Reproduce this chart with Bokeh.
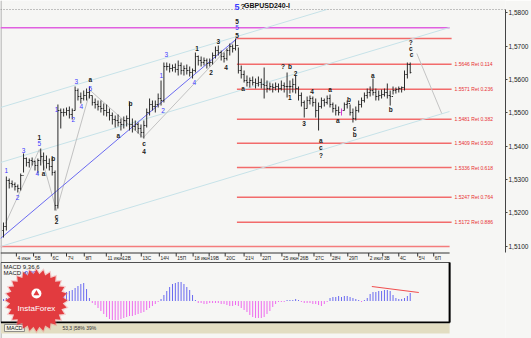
from bokeh.plotting import figure
from bokeh.models import Range1d, FixedTicker, Label, ColumnDataSource
from bokeh.core.properties import value
from bokeh.embed import file_html
from bokeh.resources import INLINE
import numpy as np

# ---------------- data ----------------
highs = [
    1.5171, 1.5309, 1.5303, 1.5297, 1.5291, 1.5285, 1.5318, 1.5378, 1.5366, 1.5363,
    1.5366, 1.5357, 1.5363, 1.5393, 1.5381, 1.5372, 1.5363, 1.5366, 1.5327, 1.5525,
    1.5513, 1.5513, 1.5516, 1.5519, 1.5513, 1.5579, 1.5573, 1.5561, 1.5567, 1.5573,
    1.5579, 1.5552, 1.5543, 1.5537, 1.5537, 1.5528, 1.5525, 1.5513, 1.5501, 1.5492,
    1.5495, 1.5483, 1.5489, 1.5492, 1.5531, 1.5483, 1.5477, 1.5471, 1.5465, 1.5477,
    1.5513, 1.5543, 1.5537, 1.5537, 1.5558, 1.5597, 1.5651, 1.5651, 1.5648, 1.5645,
    1.5648, 1.5657, 1.5651, 1.5642, 1.5645, 1.5639, 1.5633, 1.5681, 1.5672, 1.5669,
    1.5666, 1.5663, 1.5663, 1.5681, 1.5699, 1.5702, 1.5687, 1.5681, 1.5693, 1.5708,
    1.5705, 1.5723, 1.5696, 1.5642, 1.5627, 1.5612, 1.5606, 1.5609, 1.5603, 1.5609,
    1.5603, 1.5636, 1.5597, 1.5591, 1.5588, 1.5591, 1.5588, 1.5597, 1.5591, 1.5621,
    1.5597, 1.5603, 1.5612, 1.5579, 1.5561, 1.5537, 1.5549, 1.5552, 1.5549, 1.5543,
    1.5531, 1.5546, 1.5543, 1.5552, 1.5555, 1.5531, 1.5525, 1.5519, 1.5513, 1.5531,
    1.5537, 1.5525, 1.5513, 1.5519, 1.5537, 1.5546, 1.5561, 1.5573, 1.5579, 1.5603,
    1.5573, 1.5567, 1.5570, 1.5573, 1.5588, 1.5567, 1.5579, 1.5576, 1.5579, 1.5579,
    1.5627, 1.5651, 1.5651]
lows = [
    1.5126, 1.5147, 1.5273, 1.5276, 1.5267, 1.5261, 1.5267, 1.5321, 1.5339, 1.5336,
    1.5342, 1.5327, 1.5318, 1.5342, 1.5327, 1.5333, 1.5327, 1.5312, 1.5207, 1.5213,
    1.5453, 1.5489, 1.5492, 1.5483, 1.5480, 1.5507, 1.5537, 1.5528, 1.5537, 1.5537,
    1.5543, 1.5522, 1.5513, 1.5507, 1.5501, 1.5492, 1.5489, 1.5477, 1.5465, 1.5456,
    1.5459, 1.5447, 1.5453, 1.5459, 1.5447, 1.5441, 1.5447, 1.5438, 1.5426, 1.5423,
    1.5456, 1.5492, 1.5507, 1.5501, 1.5516, 1.5522, 1.5531, 1.5627, 1.5621, 1.5624,
    1.5621, 1.5612, 1.5615, 1.5612, 1.5615, 1.5609, 1.5603, 1.5621, 1.5642, 1.5639,
    1.5642, 1.5633, 1.5639, 1.5645, 1.5663, 1.5672, 1.5657, 1.5651, 1.5657, 1.5672,
    1.5681, 1.5687, 1.5618, 1.5603, 1.5591, 1.5579, 1.5576, 1.5582, 1.5573, 1.5579,
    1.5573, 1.5543, 1.5561, 1.5567, 1.5561, 1.5567, 1.5561, 1.5567, 1.5561, 1.5546,
    1.5558, 1.5561, 1.5558, 1.5537, 1.5519, 1.5486, 1.5513, 1.5525, 1.5519, 1.5486,
    1.5447, 1.5513, 1.5519, 1.5525, 1.5516, 1.5501, 1.5492, 1.5492, 1.5492, 1.5507,
    1.5513, 1.5492, 1.5471, 1.5477, 1.5501, 1.5516, 1.5531, 1.5543, 1.5549, 1.5552,
    1.5537, 1.5537, 1.5543, 1.5549, 1.5543, 1.5522, 1.5555, 1.5558, 1.5561, 1.5561,
    1.5567, 1.5603, 1.5618]
closes = [
    1.5159, 1.5297, 1.5288, 1.5285, 1.5279, 1.5273, 1.5312, 1.5363, 1.5351, 1.5357,
    1.5354, 1.5342, 1.5357, 1.5369, 1.5357, 1.5348, 1.5339, 1.5321, 1.5222, 1.5507,
    1.5501, 1.5501, 1.5507, 1.5495, 1.5507, 1.5567, 1.5549, 1.5543, 1.5552, 1.5561,
    1.5552, 1.5531, 1.5525, 1.5519, 1.5513, 1.5507, 1.5501, 1.5492, 1.5480, 1.5477,
    1.5471, 1.5465, 1.5477, 1.5483, 1.5465, 1.5459, 1.5465, 1.5453, 1.5441, 1.5462,
    1.5501, 1.5525, 1.5519, 1.5525, 1.5543, 1.5537, 1.5639, 1.5639, 1.5633, 1.5636,
    1.5630, 1.5642, 1.5627, 1.5633, 1.5627, 1.5621, 1.5627, 1.5669, 1.5657, 1.5651,
    1.5657, 1.5648, 1.5651, 1.5672, 1.5687, 1.5681, 1.5669, 1.5663, 1.5687, 1.5699,
    1.5693, 1.5702, 1.5627, 1.5615, 1.5597, 1.5591, 1.5597, 1.5591, 1.5588, 1.5591,
    1.5585, 1.5582, 1.5573, 1.5579, 1.5576, 1.5579, 1.5573, 1.5582, 1.5579, 1.5579,
    1.5579, 1.5585, 1.5573, 1.5552, 1.5531, 1.5513, 1.5537, 1.5543, 1.5531, 1.5507,
    1.5519, 1.5537, 1.5531, 1.5543, 1.5525, 1.5513, 1.5507, 1.5501, 1.5507, 1.5525,
    1.5528, 1.5501, 1.5483, 1.5507, 1.5525, 1.5537, 1.5552, 1.5561, 1.5567, 1.5561,
    1.5549, 1.5552, 1.5555, 1.5561, 1.5552, 1.5549, 1.5567, 1.5570, 1.5573, 1.5576,
    1.5615, 1.5645, 1.5621]
first_open = 1.5147
pink_bar = 118

macd_hist = [
    0.0002, 0.0003, 0.0003, 0.0004, 0.0004, 0.0004,
    0.0005, 0.0007, 0.0008, 0.0008, 0.0008, 0.0007, 0.0007, 0.0008, 0.0008, 0.0007, 0.0006, 0.0005, 0.0003, 0.0006, 0.0007, 0.0008,
    0.0009, 0.0010, 0.0011, 0.0013, 0.0015, 0.0017, 0.0018, 0.0012, 0.0003,
    -0.0002, -0.0004, -0.0007, -0.0010, -0.0013, -0.0016, -0.0018, -0.0019, -0.0019, -0.0019, -0.0018, -0.0017,
    -0.0016, -0.0015, -0.0015, -0.0014, -0.0013, -0.0012, -0.0011, -0.0009, -0.0007, -0.0005, -0.0003, -0.0001,
    0.0002, 0.0006, 0.0010, 0.0014, 0.0017, 0.0018, 0.0019, 0.0019, 0.0017, 0.0014, 0.0011, 0.0006, 0.0001,
    -0.0002, -0.0002, -0.0003, -0.0003, -0.0002, -0.0002, -0.0002, -0.0002, -0.0003, -0.0003,
    -0.0004, -0.0005, -0.0005, -0.0004, -0.0005, -0.0007, -0.0009, -0.0011, -0.0014, -0.0016,
    -0.0017, -0.0017, -0.0017, -0.0016, -0.0013, -0.0010, -0.0006, -0.0003, -0.0001, -0.0001, -0.0001,
    0.0001, 0.0001, 0.0001, 0.0002, 0.0001,
    -0.0001, -0.0002, -0.0002, -0.0002, -0.0003, -0.0003, -0.0004, -0.0005, -0.0003, -0.0001,
    0.0003, 0.0004, 0.0004, 0.0005, 0.0004, 0.0005, 0.0005, 0.0004, 0.0003, 0.0002, 0.0001,
    -0.0001,
    0.0001, 0.0003, 0.0007, 0.0009, 0.0009, 0.0010, 0.0010, 0.0011, 0.0011, 0.0010, 0.0006, 0.0003,
    0.0002, 0.0002, 0.0003, 0.0005, 0.0008]
macd_trend_x = [128.6, 145.0]
macd_trend_y = [0.00145, 0.00085]

price_ticks = [1.51, 1.52, 1.53, 1.54, 1.55, 1.56, 1.57, 1.58]
price_tick_labels = ["1,5100", "1,5200", "1,5300", "1,5400", "1,5500", "1,5600", "1,5700", "1,5800"]
current_price = 1.5620
current_price_label = "1,5620"

date_tick_idx = [4.5, 10.5, 16.7, 22.0, 28.2, 35.9, 41.1, 48.1, 54.4, 60.3, 66.2, 71.8, 77.4,
                 84.0, 89.9, 97.2, 103.1, 108.4, 114.3, 120.2, 127.5, 132.4, 138.0, 144.6, 150.2]
date_tick_labels = ["4 июн", "5В", "6С", "7Ч", "8П", "11 июн", "12В", "13С", "14Ч", "15П",
                    "18 июн", "19В", "20С", "21Ч", "22П", "25 июн", "26В", "27С", "28Ч", "29П",
                    "2 июл", "3В", "4С", "5Ч", "6П"]

fib_levels = [1.5646, 1.5571, 1.5481, 1.5409, 1.5336, 1.5247, 1.5172]
fib_labels = ["1.5646 Ret 0.114", "1.5571 Ret 0.236", "1.5481 Ret 0.382", "1.5409 Ret 0.500",
              "1.5336 Ret 0.618", "1.5247 Ret 0.764", "1.5172 Ret 0.886"]
fib_start_idx = 81.5
fib_top_level = 1.5723
magenta_level = 1.5755
bottom_level = 1.5099

blue_line_x = [-1.05, 81.5]
blue_line_y = [1.5123, 1.5723]
channel_x0 = [-1.05, -1.05, -1.05]
channel_y0 = [1.5516, 1.5351, 1.5099]
channel_x1 = [112.9, 155.7, 155.7]
channel_y1 = [1.5810, 1.5756, 1.5504]
zigzag_x = [0.7, 12.5, 18.5, 30.3, 48.8, 81.5]
zigzag_y = [1.5168, 1.5390, 1.5207, 1.5567, 1.5426, 1.5723]
proj_x = [144.3, 153.0]
proj_y = [1.5678, 1.5498]

blue_lab_x = [1.0, 4.9, 7.0, 11.8, 12.5, 18.5, 24.4, 25.4, 27.2, 30.3, 55.1, 55.7, 56.8, 66.6, 81.5]
blue_lab_y = [1.5327, 1.5246, 1.5387, 1.5318, 1.5408, 1.5510, 1.5480, 1.5594, 1.5519, 1.5573,
              1.5612, 1.5507, 1.5675, 1.5591, 1.5756]
blue_lab_t = ["1", "2", "3", "4", "5", "1", "2", "3", "4", "5", "1", "2", "3", "4", "5"]

black_lab_x = [12.5, 14.0, 17.4, 18.5, 18.5, 30.3, 40.1, 44.3, 49.1, 49.1, 67.6, 72.5, 75.0, 77.7,
               81.5, 81.5, 83.6, 97.6, 100.0, 100.0, 102.0, 104.9, 107.7, 110.8, 110.8, 110.8,
               114.0, 116.7, 120.6, 122.6, 122.6, 128.9, 135.2, 142.2, 142.2, 142.5]
black_lab_y = [1.5426, 1.5318, 1.5363, 1.5189, 1.5174, 1.5600, 1.5432, 1.5528, 1.5408, 1.5384,
               1.5693, 1.5621, 1.5714, 1.5636, 1.5732, 1.5774, 1.5573, 1.5639, 1.5639, 1.5546,
               1.5618, 1.5468, 1.5564, 1.5417, 1.5396, 1.5372, 1.5570, 1.5477, 1.5540, 1.5453,
               1.5435, 1.5612, 1.5510, 1.5711, 1.5693, 1.5675]
black_lab_t = ["1", "a", "b", "c", "2", "a", "a", "b", "c", "4", "1", "2", "3", "4", "5", "5", "a",
               "?", "b", "1", "2", "3", "4", "a", "c", "?", "a", "a", "b", "c", "b", "a", "b",
               "?", "c", "c"]

title_text = "GBPUSD240-I"

# ---------------- geometry of the picture ----------------
W, H = 531, 338
FRAME_W = 506
PX_PER_BAR = 2.87
X0_PX = 3.0
P_TOP = 1.5837
P_PER_PX = 0.0003
M_BASE_PX = 300.5
M_PER_PX = 0.0001
BG = "#f6f6f4"
FONT = "Liberation Sans"

x_start = -X0_PX / PX_PER_BAR
x_end = x_start + FRAME_W / PX_PER_BAR


def xpx(px):
    return x_start + px / PX_PER_BAR


def ypx(py):
    return P_TOP - py * P_PER_PX


def mpx(py):
    return (M_BASE_PX - py) * M_PER_PX


p = figure(width=W, height=H, x_range=Range1d(x_start, x_end), y_range=Range1d(ypx(H), P_TOP),
           x_axis_location=None, y_axis_location="right", toolbar_location=None,
           output_backend="svg", min_border_left=0, min_border_top=0, min_border_bottom=0,
           min_border_right=W - FRAME_W)
p.extra_y_ranges = {"macd": Range1d(mpx(H), mpx(0))}
p.grid.visible = False
p.outline_line_color = None
p.background_fill_color = BG
p.border_fill_color = BG

ax = p.yaxis[0]
ax.ticker = FixedTicker(ticks=price_ticks)
ax.major_label_overrides = {t: s for t, s in zip(price_ticks, price_tick_labels)}
ax.bounds = (ypx(252), ypx(9))
ax.axis_line_color = "#444444"
ax.major_tick_line_color = "#444444"
ax.major_tick_out = 2
ax.major_tick_in = 0
ax.minor_tick_line_color = None
ax.major_label_standoff = 1
ax.major_label_text_font = FONT
ax.major_label_text_font_size = "6.5px"
ax.major_label_text_color = "#222222"

# frame decorations
p.segment(x0=[xpx(0.5)], x1=[xpx(0.5)], y0=[ypx(0)], y1=[ypx(H)], line_color="#9a9a9a", line_width=1)
p.segment(x0=[x_start], x1=[x_end], y0=[ypx(9)], y1=[ypx(9)], line_color="#8a8a8a",
          line_width=1, line_dash="1 2")

# horizontal levels
p.segment(x0=[x_start], x1=[xpx(450)], y0=[magenta_level], y1=[magenta_level],
          line_color="#e060e0", line_width=1.5)
p.segment(x0=[x_start], x1=[xpx(450)], y0=[bottom_level], y1=[bottom_level],
          line_color="#f47c7c", line_width=1.5)
fib_all = [fib_top_level] + fib_levels
p.segment(x0=[fib_start_idx] * len(fib_all), x1=[xpx(452)] * len(fib_all), y0=fib_all, y1=fib_all,
          line_color="#f25c5c", line_width=1.5, line_alpha=0.9)
p.text(x=[xpx(455)] * len(fib_levels), y=fib_levels, text=fib_labels, text_font=value(FONT),
       text_font_size="5px", text_color="#e83030", text_baseline="middle", text_align="left")

# trend lines
p.segment(x0=channel_x0, y0=channel_y0, x1=channel_x1, y1=channel_y1, line_color="#c6e2e8", line_width=1)
p.line(zigzag_x, zigzag_y, line_color="#c2c2c2", line_width=1)
p.line(proj_x, proj_y, line_color="#c4c4c4", line_width=1)
p.line(blue_line_x, blue_line_y, line_color="#6a6af0", line_width=1)

# OHLC bars
n = min(len(highs), len(lows), len(closes))
idx = list(range(n))
opens = [first_open] + closes[:n - 1]
colors = ["#d040d0" if i == pink_bar else "#2a2a2a" for i in idx]
src = ColumnDataSource(dict(x=idx, h=highs[:n], l=lows[:n], o=opens, c=closes[:n],
                            xl=[i - 0.4 for i in idx], xr=[i + 0.4 for i in idx], col=colors))
p.segment(x0="x", x1="x", y0="l", y1="h", source=src, line_color="col", line_width=1)
p.segment(x0="xl", x1="x", y0="o", y1="o", source=src, line_color="col", line_width=1)
p.segment(x0="x", x1="xr", y0="c", y1="c", source=src, line_color="col", line_width=1)

# wave labels
p.text(x=blue_lab_x, y=blue_lab_y, text=blue_lab_t, text_font=value(FONT), text_font_size="6.5px",
       text_color="#3b3bff", text_align="center", text_baseline="middle")
p.text(x=black_lab_x, y=black_lab_y, text=black_lab_t, text_font=value(FONT), text_font_size="6.5px",
       text_font_style="bold", text_color="#1a1a1a", text_align="center", text_baseline="middle")
p.text(x=[81.5], y=[ypx(6)], text=["5"], text_font=value(FONT), text_font_size="9px",
       text_font_style="bold", text_color="#3b3bff", text_align="center", text_baseline="middle")
p.text(x=[83.6], y=[ypx(6)], text=["?"], text_font=value(FONT), text_font_size="8px",
       text_font_style="bold", text_color="#1a1a1a", text_align="center", text_baseline="middle")
p.text(x=[xpx(267)], y=[ypx(5)], text=[title_text], text_font=value(FONT), text_font_size="7px",
       text_font_style="bold", text_color="#111111", text_align="center", text_baseline="middle")

# current price marker
p.add_layout(Label(x=x_end, y=current_price, x_offset=1, text=current_price_label,
                   text_font=FONT, text_font_size="6.5px", text_baseline="middle",
                   background_fill_color="#ffff00", text_color="#111111"))

# date axis between panels
p.segment(x0=[x_start], x1=[xpx(450)], y0=[ypx(252.5)], y1=[ypx(252.5)], line_color="#333333", line_width=1)
p.segment(x0=date_tick_idx, x1=date_tick_idx, y0=[ypx(252.5)] * len(date_tick_idx),
          y1=[ypx(256)] * len(date_tick_idx), line_color="#333333", line_width=1)
p.text(x=[t + 0.4 for t in date_tick_idx], y=[ypx(258)] * len(date_tick_idx), text=date_tick_labels,
       text_font=value(FONT), text_font_size="4.8px", text_color="#222222",
       text_align="left", text_baseline="middle")

# MACD panel
p.quad(left=[xpx(0.5)], right=[xpx(450)], top=[mpx(262)], bottom=[mpx(322)], fill_color=BG,
       line_color="#505050", line_width=1, y_range_name="macd")
p.segment(x0=[xpx(450)], x1=[xpx(450)], y0=[mpx(262)], y1=[mpx(322)], line_color="#000000",
          line_width=2, y_range_name="macd")
p.segment(x0=[xpx(0.5)], x1=[xpx(450)], y0=[mpx(322)], y1=[mpx(322)], line_color="#000000",
          line_width=2, y_range_name="macd")
mcol = ["#6a6af0" if v >= 0 else "#ee6aee" for v in macd_hist]
msrc = ColumnDataSource(dict(x=list(range(len(macd_hist))), top=macd_hist,
                             zero=[0.0] * len(macd_hist), col=mcol))
p.segment(x0="x", x1="x", y0="zero", y1="top", source=msrc, line_color="col", line_width=1,
          y_range_name="macd")
p.line(macd_trend_x, macd_trend_y, line_color="#f05050", line_width=1.2, y_range_name="macd")
p.text(x=[xpx(3)], y=[mpx(266)], text=["MACD 9,36,6"], text_font=value(FONT), text_font_size="6px",
       text_color="#111111", text_baseline="middle", y_range_name="macd")
p.text(x=[xpx(3)], y=[mpx(272.5)], text=["MACD ="], text_font=value(FONT), text_font_size="6px",
       text_color="#111111", text_baseline="middle", y_range_name="macd")
p.text(x=[xpx(24)], y=[mpx(272.5)], text=["0.00"], text_font=value(FONT), text_font_size="6px",
       text_color="#2020ff", text_baseline="middle", y_range_name="macd")

# bottom tab strip
p.quad(left=[xpx(0.5)], right=[xpx(450)], top=[mpx(323)], bottom=[mpx(333)], fill_color="#e2ddc2",
       line_color=None, y_range_name="macd")
p.quad(left=[xpx(4)], right=[xpx(24)], top=[mpx(324)], bottom=[mpx(331)], fill_color="#f4f2e8",
       line_color="#777777", line_width=0.8, y_range_name="macd")
p.text(x=[xpx(14)], y=[mpx(327.5)], text=["MACD"], text_font=value(FONT), text_font_size="5.5px",
       text_color="#111111", text_align="center", text_baseline="middle", y_range_name="macd")
p.text(x=[xpx(62)], y=[mpx(327.5)], text=["53,3 |58% 39%"], text_font=value(FONT), text_font_size="5px",
       text_color="#333333", text_align="left", text_baseline="middle", y_range_name="macd")

# InstaForex badge
cx, cy = 36.0, 300.0
ang = np.linspace(0, 2 * np.pi, 57)[:-1]
r_out = np.where(np.arange(56) % 2 == 0, 31.0, 26.5)
p.patch(xpx(cx + (r_out + 2) * np.cos(ang)), mpx(cy + (r_out + 2) * np.sin(ang)), fill_color="#f08080",
        fill_alpha=0.35, line_color=None, y_range_name="macd")
p.patch(xpx(cx + r_out * np.cos(ang)), mpx(cy + r_out * np.sin(ang)), fill_color="#e23b3f",
        line_color=None, y_range_name="macd")
p.scatter(x=[xpx(cx)], y=[mpx(cy - 7)], marker="circle", size=10, fill_color="#ffffff",
          line_color=None, y_range_name="macd")
p.scatter(x=[xpx(cx)], y=[mpx(cy - 7)], marker="triangle", size=6, fill_color="#e23b3f",
          line_color=None, y_range_name="macd")
p.text(x=[xpx(cx)], y=[mpx(cy + 8)], text=["InstaForex"], text_font=value(FONT), text_font_size="8px",
       text_color="#ffffff", text_align="center", text_baseline="middle", y_range_name="macd")

open("out.html", "w").write(file_html(p, INLINE))
